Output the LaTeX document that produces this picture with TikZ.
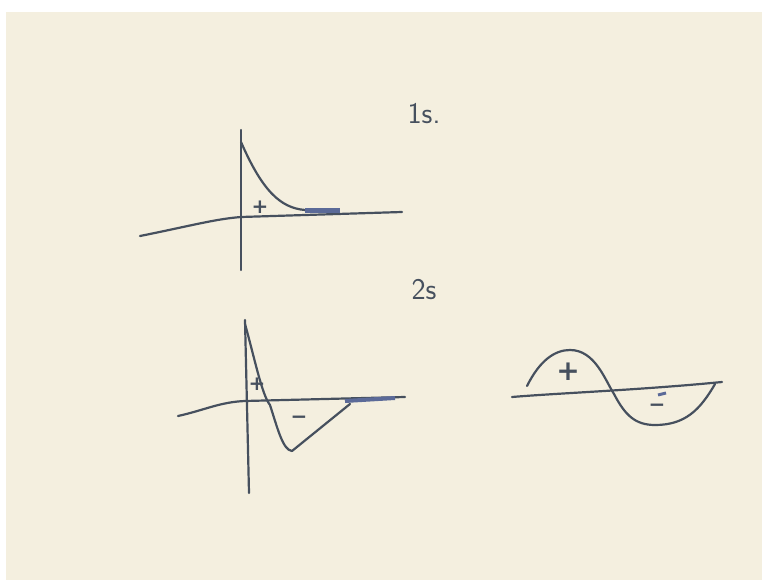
\documentclass[tikz,border=0pt]{standalone}
\usepackage{fontspec}
\usepackage{tikz}
\usetikzlibrary{positioning}
\newfontfamily\signfont{DejaVu Sans}
\definecolor{paper}{HTML}{F4EFDF}
\definecolor{pen}{HTML}{46505E}
\definecolor{penblue}{HTML}{5B6A98}
\tikzset{
	penline/.style={line width=2.2pt, pen, line cap=round, line join=round}
}
\tikzset{
	signtext/.style={font=\signfont\bfseries\fontsize{20}{20}\selectfont\color{pen}, inner sep=0pt}
}
\tikzset{
	bigsigntext/.style={font=\signfont\bfseries\fontsize{28}{28}\selectfont\color{pen}, inner sep=0pt}
}
\tikzset{
	labeltext/.style={font=\sffamily\fontsize{30}{30}\selectfont\color{pen}, inner sep=0pt}
}
\begin{document}
\begin{tikzpicture}[x=1pt, y=-1pt]
  \useasboundingbox (0,0) rectangle (762,580);
  \fill[white] (0,0) rectangle (762,580);
  \fill[paper] (6,12) rectangle (762,580);
  % 1s
  \node[labeltext] (lbla) at (424,114) {1s.};
  \draw[penline] (140,236) .. controls (190,226) and (215,219) .. (241,217) -- (402,212);
  \draw[penline] (241,130) -- (241,270);
  \draw[penline] (241,142) .. controls (262,190) and (280,208) .. (305,210);
  \draw[line width=5pt, penblue] (305,210) -- (340,210);
  \node[signtext] (plusa) at (260,207) {+};
  % 2s
  \node[labeltext] (lblb) at (424,290) {2s};
  \draw[penline] (178,416) .. controls (205,410) and (220,402) .. (245,401) -- (405,397);
  \draw[penline] (245,320) -- (249,493);
  \draw[penline] (245,324) .. controls (255,360) and (262,395) .. (270,405)
    .. controls (278,430) and (283,450) .. (292,451) -- (350,404);
  \draw[line width=4pt, penblue] (345,401) -- (395,398);
  \node[signtext] (plusb) at (257,384) {+};
  \node[signtext] (minusb) at (299,420) {−};
  % sine
  \draw[penline] (512,397) .. controls (560,393) and (640,390) .. (722,382);
  \draw[penline] (527,386) .. controls (540,360) and (555,350) .. (570,350)
    .. controls (595,350) and (605,380) .. (614,394)
    .. controls (625,415) and (635,425) .. (655,425)
    .. controls (685,425) and (700,410) .. (715,384);
  \draw[line width=3pt, penblue] (658,395) -- (666,393);
  \node[bigsigntext] (plusc) at (568,372) {+};
  \node[signtext] (minusc) at (657,408) {−};
\end{tikzpicture}
\end{document}
